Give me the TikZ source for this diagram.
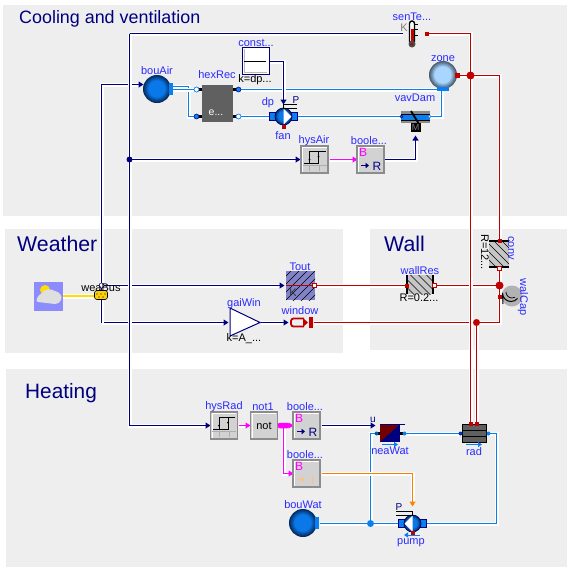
\documentclass[tikz,border=0pt]{standalone}
\usepackage{fontspec}
\setmainfont{Liberation Sans}
\usetikzlibrary{arrows.meta}
\definecolor{panel}{HTML}{EEEEEE}
\definecolor{navy}{HTML}{00007F}
\definecolor{wred}{HTML}{BF0000}
\definecolor{fblue}{HTML}{0A7FEF}
\definecolor{mag}{HTML}{FF00FF}
\definecolor{org}{HTML}{FF8000}
\definecolor{lab}{HTML}{2A2AFF}
\definecolor{boxg}{HTML}{D2D2D2}
\definecolor{boxe}{HTML}{8C8C8C}
\definecolor{hexg}{HTML}{606060}
\definecolor{ballin}{HTML}{0A78E8}
\definecolor{ballout}{HTML}{04285A}
\definecolor{zonein}{HTML}{A8D6FF}
\definecolor{zoneout}{HTML}{46586A}
\tikzset{
 wire/.style={line width=1.1pt,line join=miter,preaction={draw=white,line width=4pt}},
 sig/.style={wire,draw=navy},
 heat/.style={wire,draw=wred},
 fluid/.style={wire,draw=fblue},
 bool/.style={wire,draw=mag},
 intw/.style={wire,draw=org},
 inarr/.style={-{Triangle[length=5pt,width=6pt]}},
 panelbox/.style={fill=panel,draw=none},
 title/.style={text=navy,inner sep=0pt,anchor=west,font=\fontsize{21.3}{24}\selectfont},
 lbl/.style={text=lab,inner sep=0pt,font=\fontsize{11}{12}\selectfont},
 par/.style={text=black,inner sep=0pt,font=\fontsize{11}{12}\selectfont},
 logic/.style={draw=boxe,fill=boxg,line width=1.2pt,minimum width=27pt,minimum height=27pt,inner sep=0pt,outer sep=0pt},
 dot/.style={circle,inner sep=0pt,minimum size=#1,draw=none},
 redport/.style={fill=wred,draw=none,minimum size=5pt,inner sep=0pt},
 icon/.style={inner sep=0pt,font=\fontsize{12}{13}\selectfont},
}
\newcommand{\ballfill}[5]{% x y r inner outer
 \foreach \i in {0,...,10}{%
  \pgfmathsetmacro{\mixv}{\i*10}%
  \fill[#4!\mixv!#5] (#1,#2) circle ({#3*(1-\i*0.04)});}}
\newcommand{\hatchbox}[6]{% x1 y1 x2 y2 fill sign
 \fill[#5] (#1,#2) rectangle (#3,#4);
 \begin{scope}
 \clip (#1,#2) rectangle (#3,#4);
 \foreach \k in {-40,-32,...,40}{\draw[black,line width=.6pt] ({(#1+#3)/2+\k-30},{(#2+#4)/2-30*#6}) -- ({(#1+#3)/2+\k+30},{(#2+#4)/2+30*#6});}
 \end{scope}}
\newcommand{\hysicon}[2]{%
 \begin{scope}[shift={(#1,#2)}]
  \draw[black,line width=1pt] (-11,5) -- (4,5) -- (4,-7);
  \draw[black,line width=1pt] (-5,5) -- (-5,-7) -- (11,-7);
  \fill[black] (-5,1) circle (1) (4,-2) circle (1);
  \draw[boxe!70,line width=.6pt] (-12,7) -- (12,7) (-5,7) -- (-5,12) (5,7) -- (5,12);
 \end{scope}}
\newcommand{\highlight}[2]{%
 \draw[white,line width=.9pt] ({#1-12},{#2+12}) -- ({#1-12},{#2-12}) -- ({#1+12},{#2-12});}
\newcommand{\pumpicon}[3]{% x y dir
 \begin{scope}[shift={(#1,#2)}]
  \fill[fblue,draw=navy,line width=.6pt] (-14,-4) rectangle (14,4);
  \ballfill{0}{0}{8.5}{ballin}{ballout}
  \fill[white] (0,-8) -- (0,8) -- ({#3*8},0) -- cycle;
  \draw[navy!80!black,line width=.7pt] (0,0) circle (8.5);
 \end{scope}}
\begin{document}
\begin{tikzpicture}[x=1pt,y=-1pt]
\useasboundingbox (0,0) rectangle (571,571);
\fill[white] (0,0) rectangle (571,571);
% panels
\fill[panelbox] (3,5) rectangle (567,216);
\fill[panelbox] (5,229) rectangle (343,353);
\fill[panelbox] (370,229) rectangle (567,350);
\fill[panelbox] (6,369) rectangle (567,567);
\node[title,font=\fontsize{17.9}{20}\selectfont] (tCool) at (19,19) {Cooling and ventilation};
\node[title] (tWea) at (17,244) {Weather};
\node[title] (tWall) at (384,244) {Wall};
\node[title,font=\fontsize{20.8}{24}\selectfont] (tHeat) at (25,393) {Heating};
\begin{scope}[shift={(0.5,0.5)}]
% port coordinates
\coordinate (busTop) at (101,285);
\coordinate (busLow) at (101,322);
\coordinate (busUp) at (101,84);
\coordinate (bouAirT) at (143,84);
\coordinate (sigDot) at (129,159);
\coordinate (senIn) at (402,33);
\coordinate (senOut) at (426,33);
\coordinate (toutIn) at (284,285);
\coordinate (toutOut) at (314,285);
\coordinate (gaiIn) at (228,322);
\coordinate (gaiOut) at (260,322);
\coordinate (winIn) at (288,322);
\coordinate (winOut) at (313,322);
\coordinate (bouAirA) at (171,86);
\coordinate (bouAirB) at (171,89);
\coordinate (hexL1) at (196,89);
\coordinate (hexL2) at (196,116);
\coordinate (hexR1) at (238,89);
\coordinate (hexR2) at (238,116);
\coordinate (fanL) at (269,116);
\coordinate (fanR) at (297,116);
\coordinate (vavL) at (401,116);
\coordinate (vavR) at (429,116);
\coordinate (zoneP) at (443,89);
\coordinate (zoneH) at (457,75);
\coordinate (zoneDot) at (470,75);
\coordinate (constOut) at (269,61);
\coordinate (fanIn) at (283,104);
\coordinate (hysAirIn) at (300,159);
\coordinate (hysAirOut) at (329,159);
\coordinate (boolAIn) at (357,159);
\coordinate (boolAOut) at (384,159);
\coordinate (vavIn) at (415,135);
\coordinate (convT) at (499,240);
\coordinate (convB) at (499,268);
\coordinate (wallL) at (406,285);
\coordinate (wallR) at (434,285);
\coordinate (capDot) at (499,285);
\coordinate (capP) at (499,296);
\coordinate (radDot) at (476,322);
\coordinate (radH1) at (470,423);
\coordinate (radH2) at (476,423);
\coordinate (hysRadIn) at (210,425);
\coordinate (hysRadOut) at (238,425);
\coordinate (notIn) at (250,425);
\coordinate (notOut) at (278,425);
\coordinate (pinkDot) at (283,425);
\coordinate (boolBIn) at (293,425);
\coordinate (boolBOut) at (321,425);
\coordinate (boolCIn) at (293,473);
\coordinate (boolCOut) at (321,473);
\coordinate (heaU) at (375,425);
\coordinate (heaL) at (376,433);
\coordinate (heaR) at (404,433);
\coordinate (radL) at (460,433);
\coordinate (radR) at (488,433);
\coordinate (watP) at (319,523);
\coordinate (watDot) at (370,523);
\coordinate (pumpL) at (398,523);
\coordinate (pumpR) at (426,523);
\coordinate (pumpIn) at (412,506);
% wires
\draw[fluid] (hexR1) -- (zoneP |- hexR1);
\draw[fluid] (hexR2) -- (fanL);
\draw[fluid] (fanR) -- (vavL);
\draw[fluid] (vavR) -- (441,116) -- (441,89);
\draw[fluid] (bouAirA) -- (188,86) -- (188,116) -- (hexL2);
\draw[fluid] (bouAirB) -- (hexL1);
\draw[sig,inarr] (constOut) -- (283,61) -- (fanIn);
\draw[sig,inarr] (boolAOut) -- (415,159) -- (vavIn);
\draw[bool,inarr] (hysAirOut) -- (boolAIn);
\draw[sig,inarr] (busTop) -- (toutIn);
\draw[sig,inarr] (busLow) -- (gaiIn);
\draw[sig,inarr] (gaiOut) -- (winIn);
\draw[sig,inarr] (busLow) -- (101,84) -- (bouAirT);
\draw[sig] (129,33) -- (senIn);
\draw[sig,inarr] (sigDot) -- (hysAirIn);
\draw[sig,inarr] (129,33) -- (129,425) -- (hysRadIn);
\draw[heat] (toutOut) -- (wallL);
\draw[heat] (wallR) -- (capDot);
\draw[heat] (winOut) -- (radDot);
\draw[heat] (radDot) -- (499,322) -- (convB);
\draw[heat] (zoneH) -- (499,75) -- (convT);
\draw[heat] (senOut) -- (470,33) -- (radH1);
\draw[heat] (radDot) -- (radH2);
\draw[bool,inarr] (hysRadOut) -- (notIn);
\draw[bool,inarr] (notOut) -- (boolBIn);
\draw[bool,inarr] (pinkDot) -- (283,473) -- (boolCIn);
\draw[sig,inarr] (boolBOut) -- (heaU);
\draw[fluid] (heaL) -- (370,433) -- (watDot);
\draw[fluid] (watP) -- (pumpL);
\draw[fluid] (heaR) -- (radL);
\draw[fluid] (radR) -- (496,433) -- (496,523) -- (pumpR);
\draw[intw,inarr] (boolCOut) -- (412,473) -- (pumpIn);
% junction dots
\node[dot=6pt,fill=navy] (d1) at (sigDot) {};
\node[dot=8pt,fill=wred] (d2) at (zoneDot) {};
\node[dot=8pt,fill=wred] (d3) at (capDot) {};
\node[dot=7pt,fill=wred] (d4) at (radDot) {};
\node[fill=mag,inner sep=0pt,minimum width=12pt,minimum height=5.5pt,rounded corners=2.5pt] (d5) at (pinkDot) {};
\node[dot=7pt,fill=fblue] (d6) at (watDot) {};
\end{scope}
% weather
\node[fill=blue!45,minimum size=29pt,inner sep=0pt] (weather) at (48.5,296) {};
\fill[yellow!80!orange] (45,290) circle (5);
\fill[gray!25] (38,302) to[out=180,in=200] (42,293) to[out=60,in=150] (55,291) to[out=-10,in=60] (61,300) to[out=-110,in=0] (55,304) -- cycle;
\draw[line width=2.4pt,draw=yellow!80!orange,preaction={draw=white,line width=5pt}] (weather.east) -- (95,296);
\node[fill=yellow!70!orange,draw=black,line width=.6pt,rounded corners=2.5pt,minimum width=13pt,minimum height=9pt,inner sep=0pt] (bus) at (101,295) {};
\fill[black] (97,294) circle (.7) (101,294) circle (.7) (105,294) circle (.7) (99,297) circle (.7) (103,297) circle (.7);
\node[dot=5pt,fill=white,draw=navy,line width=.5pt] (busC) at (101.5,285.5) {};
\node[par] (lBus) at (101,288) {weaBus};
% bouAir
\ballfill{157}{89}{14}{ballin}{ballout}
\node[inner sep=0pt,minimum width=4pt,minimum height=12pt,fill=fblue,draw=none] (bouAir) at (171,89) {};
\node[lbl] (lBouAir) at (157,71) {bouAir};
% hexRec
\foreach \p in {hexL1,hexL2}{\draw[black,line width=2.5pt] (\p) -- ++(7,0);}
\foreach \p in {hexR1,hexR2}{\draw[black,line width=2.5pt] (\p) -- ++(-7,0);}
\node[fill=hexg,minimum width=31pt,minimum height=37pt,inner sep=0pt] (hexRec) at (217.5,103.5) {};
\node[text=white,inner sep=0pt,font=\fontsize{10.5}{12}\selectfont] (lE) at (216,113) {e...};
\node[lbl] (lHex) at (217,75) {hexRec};
\node[dot=5pt,fill=white,draw=fblue,line width=.7pt] (pHL1) at (hexL1) {};
\node[dot=5pt,fill=fblue,draw=navy,line width=.5pt] (pHL2) at (hexL2) {};
\node[dot=5pt,fill=fblue,draw=navy,line width=.5pt] (pHR1) at (hexR1) {};
\node[dot=5pt,fill=white,draw=fblue,line width=.7pt] (pHR2) at (hexR2) {};
% const
\node[fill=white,draw=navy,line width=1pt,minimum size=27pt,inner sep=0pt] (const) at (255.5,61) {};
\draw[boxe!60,line width=.6pt] (244,49) -- (244,72) -- (267,72);
\draw[black,line width=1pt] (244,61.5) -- (266,61.5);
\node[lbl] (lConst) at (256,43) {const...};
\node[par] (lK) at (255,80) {k=dp...};
% fan
\pumpicon{283.5}{116.5}{1}
\draw[black,line width=.8pt] (283.5,104) -- (283.5,109);
\draw[black,line width=.8pt] (283.5,104.5) -- (297,104.5) (283.5,108.5) -- (297,108.5);
\node[redport,minimum size=4pt] (fanHeat) at (283.5,127) {};
\node[text=navy,inner sep=0pt,font=\fontsize{10}{11}\selectfont] (lP1) at (296,100) {P};
\node[lbl] (lDp) at (268,103) {dp};
\node[lbl] (lFan) at (283,136) {fan};
% vavDam
\fill[boxe] (401,111) rectangle (430,123);
\fill[fblue] (401,114) rectangle (430,120);
\draw[black,line width=.6pt] (401,114) -- (430,114) (401,120) -- (430,120);
\draw[black,line width=1.8pt] (411,111) -- (419,124);
\node[fill=black,text=gray,minimum width=10pt,minimum height=9pt,inner sep=0pt,font=\fontsize{9}{10}\selectfont] (vavDam) at (415.5,127.5) {M};
\node[lbl] (lVav) at (415,98) {vavDam};
\node[dot=3pt,fill=fblue,draw=navy,line width=.5pt] (pV1) at (vavL) {};
\node[dot=3pt,fill=white,draw=fblue,line width=.5pt] (pV2) at (vavR) {};
% zone
\ballfill{443}{75}{14}{zonein}{zoneout}
\node[inner sep=0pt,minimum width=12pt,minimum height=3.5pt,fill=fblue] (zone) at (443,89) {};
\node[redport] (zoneR) at (zoneH) {};
\node[lbl] (lZone) at (443,59) {zone};
% senTemp
\draw[black,line width=1pt] (412,24.5) -- (418,24.5) (412,29.5) -- (418,29.5) (412,35.5) -- (418,35.5);
\draw[black,fill=white,line width=1.4pt,rounded corners=2.5pt] (409.5,21) rectangle (414.5,44);
\fill[wred] (410.5,29) rectangle (413.5,44);
\fill[black!70] (412,44) circle (3.5);
\fill[wred] (412,44) circle (1.5);
\node[redport,minimum size=4pt] (senP) at (senOut) {};
\node[text=gray,inner sep=0pt,font=\fontsize{11}{12}\selectfont] (lK2) at (404,28) {K};
\node[lbl] (lSen) at (412,17) {senTe...};
% hysAir
\node[logic] (hysAir) at (314.5,159.5) {};
\highlight{314.5}{159.5}
\hysicon{314.5}{158.5}
\node[lbl] (lHysA) at (314,141) {hysAir};
% booleA
\node[logic] (boolA) at (370.5,159.5) {};
\highlight{370.5}{159.5}
\node[icon,text=mag] (bA) at (363,152) {B};
\node[icon,text=navy] (rA) at (377,166) {R};
\draw[navy,line width=1.4pt,-{Triangle[length=3.5pt,width=5.5pt]}] (361,165.5) -- (369,165.5);
\node[lbl] (lBoolA) at (369,141) {boole...};
% conv
\hatchbox{489}{241}{509}{267}{gray!45}{1}
\draw[black,line width=1.2pt] (489,241) -- (509,241) (489,267) -- (509,267);
\node[redport,minimum size=4pt] (convTp) at (convT) {};
\node[rectangle,minimum size=3.5pt,inner sep=0pt,fill=white,draw=wred,line width=.6pt] (convBp) at (convB) {};
\node[lbl,rotate=-90] (lConv) at (511,248) {conv};
\node[par,rotate=-90] (lRc) at (485,252) {R=12...};
% wallRes
\hatchbox{407}{275}{433}{294}{gray!45}{1}
\draw[black,line width=1.2pt] (407,275) -- (407,294) (433,275) -- (433,294);
\node[redport,minimum size=4pt] (wallLp) at (wallL) {};
\node[rectangle,minimum size=3.5pt,inner sep=0pt,fill=white,draw=wred,line width=.6pt] (wallRp) at (wallR) {};
\node[lbl] (lWall) at (420,271) {wallRes};
\node[par] (lRw) at (419,298) {R=0.2...};
% wallCap
\fill[gray!60] (512,296) circle (10.5);
\draw[black,line width=1pt] (503,304) -- (502.5,293) arc (180:40:8.5);
\draw[black,line width=.7pt] (506,292) arc (180:60:6);
\node[redport,minimum size=4pt] (capPp) at (capP) {};
\node[lbl,rotate=-90] (lCap) at (523,297) {walCap};
% Tout
\hatchbox{286}{271}{315}{300}{blue!40!gray!70}{-1}
\draw[wred,line width=1.1pt] (286,285.5) -- (312,285.5);
\node[rectangle,minimum size=3.5pt,inner sep=0pt,fill=white,draw=wred,line width=.6pt] (toutP) at (toutOut) {};
\node[text=black!80,inner sep=0pt,font=\fontsize{11}{12}\selectfont] (lKt) at (293,293) {K};
\node[lbl] (lTout) at (300,267) {Tout};
% gaiWin
\draw[navy,fill=white,line width=1pt] (230,308) -- (260,322.5) -- (230,336) -- cycle;
\node[lbl] (lGai) at (244,304) {gaiWin};
\node[par] (lKa) at (244,339) {k=A\_...};
% window
\draw[wred,line width=1.8pt,rounded corners=2.5pt] (304,318.5) -- (291,318.5) -- (291,326.5) -- (304,326.5);
\fill[wred] (303,318) -- (308,322.5) -- (303,327) -- cycle;
\fill[wred] (309,316.5) rectangle (313,328);
\node[inner sep=0pt] (windowN) at (winOut) {};
\node[lbl] (lWin) at (300,311) {window};
% hysRad
\node[logic] (hysRad) at (224,425.5) {};
\highlight{224}{425.5}
\hysicon{224}{424.5}
\node[lbl] (lHysR) at (224,407) {hysRad};
% not
\node[logic,text=black,font=\fontsize{11}{12}\selectfont] (not1) at (264,425.5) {not};
\highlight{264}{425.5}
\node[lbl] (lNot) at (263,407) {not1};
% booleB
\node[logic] (boolB) at (306.5,425.5) {};
\highlight{306.5}{425.5}
\node[icon,text=mag] (bB) at (299,418) {B};
\node[icon,text=navy] (rB) at (313,432) {R};
\draw[navy,line width=1.4pt,-{Triangle[length=3.5pt,width=5.5pt]}] (297,431.5) -- (305,431.5);
\node[lbl] (lBoolB) at (305,407) {boole...};
% booleC
\node[logic] (boolC) at (306.5,473.5) {};
\highlight{306.5}{473.5}
\node[icon,text=mag] (bC) at (299,466) {B};
\node[icon,text=org!50] (iC) at (313,480) {I};
\draw[org!50,line width=1.4pt,-{Triangle[length=3.5pt,width=5.5pt]}] (297,479.5) -- (305,479.5);
\node[lbl] (lBoolC) at (305,455) {boole...};
% bouWat
\ballfill{303}{523}{14}{ballin}{ballout}
\node[inner sep=0pt,minimum width=4pt,minimum height=12pt,fill=fblue] (bouWat) at (317,523) {};
\node[lbl] (lBouW) at (303,505) {bouWat};
% heaWat
\draw[black,line width=2.5pt] (heaL) -- (heaR);
\fill[navy] (380,424) rectangle (400,442);
\fill[wred!60!black] (380,424) -- (400,424) -- (380,442) -- cycle;
\draw[navy,line width=.8pt] (380,424) -- (405,424);
\node[dot=4pt,fill=fblue!70!black] (pHeaL) at (heaL) {};
\node[dot=4pt,fill=fblue] (pHeaR) at (heaR) {};
\draw[fblue,line width=.9pt,-{Triangle[length=4pt,width=5pt]}] (382,444.5) -- (398,444.5);
\node[text=navy,inner sep=0pt,font=\fontsize{10}{11}\selectfont] (lU) at (373,420) {u};
\node[lbl] (lHea) at (390,451) {neaWat};
% rad
\node[fill=hexg,draw=black,line width=1pt,minimum width=24pt,minimum height=18pt,inner sep=0pt] (rad) at (474,433) {};
\draw[black,line width=.8pt] (462,430) -- (486,430) (462,436) -- (486,436);
\node[dot=4pt,fill=navy!60!fblue] (pRadL) at (radL) {};
\node[dot=4pt,fill=fblue] (pRadR) at (radR) {};
\node[redport,minimum size=4pt] (pR1) at (radH1) {};
\node[redport,minimum size=4pt] (pR2) at (radH2) {};
\draw[fblue,line width=.9pt,-{Triangle[length=4pt,width=5pt]}] (466,444.5) -- (482,444.5);
\node[lbl] (lRad) at (474,452) {rad};
% pump
\pumpicon{412.5}{523.5}{-1}
\draw[black,line width=.8pt] (412.5,511) -- (412.5,515);
\draw[black,line width=.8pt] (412.5,511.5) -- (396,511.5) (412.5,515.5) -- (396,515.5);
\node[redport,minimum size=4pt] (pumpHeat) at (412.5,533) {};
\draw[fblue,line width=.9pt,{Triangle[length=4pt,width=5pt]}-] (404,535) -- (420,535);
\node[text=navy,inner sep=0pt,font=\fontsize{10}{11}\selectfont] (lP2) at (399,507) {P};
\node[lbl] (lPump) at (411,543) {pump};
\end{tikzpicture}
\end{document}
